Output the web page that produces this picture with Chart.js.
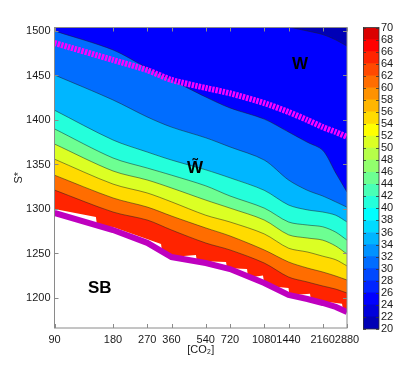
<!DOCTYPE html>
<html>
<head>
<meta charset="utf-8">
<script src="https://cdn.jsdelivr.net/npm/chart.js@4.4.0/dist/chart.umd.min.js"></script>
<style>
  html, body { margin: 0; padding: 0; background: #fff; }
  #wrap { position: relative; width: 419px; height: 370px; }
  #main { position: absolute; left: 0; top: 0; }
  #cbar { position: absolute; left: 355px; top: 0; }
</style>
</head>
<body>
<div id="wrap">
  <canvas id="main" width="419" height="370"></canvas>
  <canvas id="cbar" width="64" height="370"></canvas>
</div>
<script>
// ---- data ----
const co2 = [90, 180, 270, 360, 540, 720, 1080, 1440, 1800, 2160, 2520, 2880];

// contour lines, S* value at each co2 column (level = lower value of the band below)
const s25 = [1540, 1535, 1530, 1525, 1520, 1515, 1510, 1504.5, 1500, 1496, 1490, 1483];
const s30 = [1500, 1478.7, 1458.4, 1445, 1425.8, 1413.5, 1401, 1386.5, 1375, 1366, 1340.5, 1319];
const s35 = [1450.6, 1422.5, 1403.4, 1392, 1380, 1369.7, 1355, 1332.6, 1321, 1314.6, 1308, 1302];
const s40 = [1411, 1377.5, 1364, 1355, 1344, 1335, 1321, 1304.5, 1299, 1296.6, 1293, 1285.4];
const s45 = [1390, 1357.3, 1346, 1338, 1326, 1314.6, 1301, 1285.4, 1282, 1280, 1274, 1265];
const s50 = [1373, 1342.7, 1332.6, 1323.6, 1310, 1301, 1287.6, 1271, 1267.4, 1265, 1258.4, 1249.4];
const s55 = [1356, 1328, 1318, 1308, 1293, 1285.4, 1272, 1256, 1251.7, 1247, 1243, 1236];
const s60 = [1338, 1312.4, 1302.2, 1292.1, 1278.7, 1269.7, 1254, 1240.5, 1233.7, 1229.2, 1224.7, 1220.2];
const s65 = [1321.3, 1296.6, 1287.6, 1276.4, 1261.8, 1254, 1239.3, 1223.6, 1218, 1213.5, 1210, 1205.6];

// SB boundary (solid purple) and W boundary (dashed magenta)
const sbLine = [1295.5, 1276.4, 1262, 1246, 1239.3, 1232.6, 1216.8, 1203.4, 1198.9, 1194.4, 1190, 1184.3];
const wLine = [1486.5, 1467.4, 1456, 1445, 1436, 1430, 1419, 1409, 1400, 1392, 1386.5, 1381];

// ragged lower edge of the filled region
const edgeCO2 = [90, 147, 149, 180, 318, 322, 360, 417, 481, 486, 540, 582, 687, 695, 720, 773, 881, 890,
                 980, 1064, 1080, 1272, 1440, 1457, 1650, 1858, 1880, 2160, 2354, 2715, 2750, 2880];
const edgeS = [1300.1, 1291, 1281, 1279.8, 1260.7, 1252.2, 1246, 1247.2, 1248.3, 1241, 1239.3, 1241, 1240.5, 1233.4,
               1232.6, 1233.2, 1232.6, 1224.3, 1224.2, 1225.2, 1216.9, 1212.4, 1211.2, 1203.2, 1204, 1204.8,
               1197.8, 1194.4, 1195.3, 1193.6, 1186.2, 1184.3];

const xTicks = [90, 180, 270, 360, 540, 720, 1080, 1440, 2160, 2880];
const yTicks = [1200, 1250, 1300, 1350, 1400, 1450, 1500];
const cbTicks = [20, 22, 24, 26, 28, 30, 32, 34, 36, 38, 40, 42, 44, 46, 48, 50, 52, 54, 56, 58, 60, 62, 64, 66, 68, 70];

const noteText = ["W", "W\u0303", "SB"];
const noteCO2 = [1650, 476, 154];
const noteS = [1462, 1346, 1211];

// matlab jet(25), one colour per 2 units from 20 to 70
const jet = [
  "rgb(0,0,182)", "rgb(0,0,219)", "rgb(0,0,255)", "rgb(0,36,255)", "rgb(0,73,255)",
  "rgb(0,109,255)", "rgb(0,146,255)", "rgb(0,182,255)", "rgb(0,219,255)", "rgb(0,255,255)",
  "rgb(36,255,219)", "rgb(73,255,182)", "rgb(109,255,146)", "rgb(146,255,109)", "rgb(182,255,73)",
  "rgb(219,255,36)", "rgb(255,255,0)", "rgb(255,219,0)", "rgb(255,182,0)", "rgb(255,146,0)",
  "rgb(255,109,0)", "rgb(255,73,0)", "rgb(255,36,0)", "rgb(255,0,0)", "rgb(219,0,0)"
];

const FONT = "'Liberation Sans', Arial, Helvetica, sans-serif";
const TXT = "#1a1a1a";

function jetAt(v) {
  return jet[Math.floor((v - 20) / 2)];
}

function pts(xs, ys) {
  return xs.map((x, i) => ({ x: x, y: ys[i] }));
}

const contours = [[25, s25], [30, s30], [35, s35], [40, s40], [45, s45], [50, s50], [55, s55], [60, s60], [65, s65]];

const datasets = [];

// each line fills everything above it with the band colour; lower lines are drawn first
contours.forEach(([lev, arr]) => {
  datasets.push({
    data: pts(co2, arr),
    fill: "end",
    backgroundColor: jetAt(lev - 5),
    borderColor: "rgba(30,30,30,0.7)",
    borderWidth: 0.7,
    pointRadius: 0,
    tension: 0.3,
    clip: 0,
    order: lev
  });
});

datasets.push({
  data: pts(edgeCO2, edgeS),
  fill: "end",
  backgroundColor: jetAt(65),
  borderWidth: 0,
  pointRadius: 0,
  tension: 0,
  clip: 0,
  order: 100
});

datasets.push({
  data: pts(co2, sbLine),
  fill: false,
  borderColor: "#bf00bf",
  borderWidth: 6,
  pointRadius: 0,
  tension: 0,
  clip: 0,
  order: 1
});

datasets.push({
  data: pts(co2, wLine),
  fill: false,
  borderColor: "#ff00ff",
  borderWidth: 6,
  borderDash: [2.4, 1.1],
  borderCapStyle: "butt",
  pointRadius: 0,
  tension: 0.2,
  clip: 0,
  order: 0
});

// box + inward ticks like matlab axes
const framePlugin = {
  id: "frame",
  afterDatasetsDraw(chart) {
    const { ctx, chartArea: a, scales } = chart;
    ctx.save();
    ctx.strokeStyle = "#8a8a8a";
    ctx.lineWidth = 1;
    ctx.strokeRect(a.left, a.top, a.right - a.left, a.bottom - a.top);
    ctx.beginPath();
    scales.x.ticks.forEach(t => {
      const px = Math.round(scales.x.getPixelForValue(t.value)) + 0.5;
      ctx.moveTo(px, a.bottom); ctx.lineTo(px, a.bottom - 4);
      ctx.moveTo(px, a.top); ctx.lineTo(px, a.top + 4);
    });
    scales.y.ticks.forEach(t => {
      const py = Math.round(scales.y.getPixelForValue(t.value)) + 0.5;
      ctx.moveTo(a.left, py); ctx.lineTo(a.left + 4, py);
      ctx.moveTo(a.right, py); ctx.lineTo(a.right - 4, py);
    });
    ctx.stroke();

    // region labels
    ctx.fillStyle = "#000";
    ctx.font = "bold 17px " + FONT;
    ctx.textAlign = "center";
    ctx.textBaseline = "middle";
    noteText.forEach((t, i) => {
      ctx.fillText(t, scales.x.getPixelForValue(noteCO2[i]), scales.y.getPixelForValue(noteS[i]));
    });
    ctx.restore();
  }
};

new Chart(document.getElementById("main"), {
  type: "line",
  data: { datasets: datasets },
  options: {
    responsive: false,
    animation: false,
    devicePixelRatio: 1,
    layout: { padding: { top: 27.5, right: 72, bottom: 0, left: 0 } },
    plugins: { legend: { display: false }, tooltip: { enabled: false } },
    scales: {
      x: {
        type: "logarithmic",
        min: 90,
        max: 2880,
        bounds: "data",
        afterBuildTicks: s => { s.ticks = xTicks.map(v => ({ value: v })); },
        afterFit: s => { s.height = 42; },
        grid: { display: false, drawTicks: false },
        border: { display: false },
        ticks: {
          autoSkip: false, maxRotation: 0, minRotation: 0, padding: 5,
          color: TXT, font: { family: FONT, size: 11 },
          callback: v => String(v)
        },
        title: {
          display: true, text: "[CO₂]", color: TXT,
          font: { family: FONT, size: 11 },
          padding: { top: 0, bottom: 13 }
        }
      },
      y: {
        type: "linear",
        min: 1166.3,
        max: 1503.9,
        afterBuildTicks: s => { s.ticks = yTicks.map(v => ({ value: v })); },
        afterFit: s => { s.width = 54.5; },
        grid: { display: false, drawTicks: false },
        border: { display: false },
        ticks: {
          padding: 4, color: TXT, font: { family: FONT, size: 11 },
          callback: v => String(v)
        },
        title: {
          display: true, text: "S*", color: TXT,
          font: { family: FONT, size: 11 },
          padding: { top: 12, bottom: 0 }
        }
      }
    }
  },
  plugins: [framePlugin]
});

// ---- colour bar ----
const cbFrame = {
  id: "cbFrame",
  afterDatasetsDraw(chart) {
    const { ctx, chartArea: a, scales } = chart;
    ctx.save();
    ctx.strokeStyle = "#333";
    ctx.lineWidth = 0.8;
    ctx.strokeRect(a.left + 0.5, a.top, a.right - a.left - 0.5, a.bottom - a.top);
    ctx.beginPath();
    scales.y.ticks.forEach(t => {
      const py = Math.round(scales.y.getPixelForValue(t.value)) + 0.5;
      ctx.moveTo(a.left, py); ctx.lineTo(a.left + 3, py);
      ctx.moveTo(a.right, py); ctx.lineTo(a.right - 3, py);
    });
    ctx.stroke();
    ctx.restore();
  }
};

const cbLevels = cbTicks.slice(0, -1);

new Chart(document.getElementById("cbar"), {
  type: "bar",
  data: {
    labels: [""],
    datasets: cbLevels.map((lo, i) => ({
      data: [[lo, lo + 2]],
      backgroundColor: jet[i],
      borderWidth: 0,
      grouped: false,
      barPercentage: 1,
      categoryPercentage: 1
    }))
  },
  options: {
    responsive: false,
    animation: false,
    devicePixelRatio: 1,
    layout: { padding: { top: 27.5, right: 0, bottom: 41, left: 8 } },
    plugins: { legend: { display: false }, tooltip: { enabled: false } },
    scales: {
      x: { display: false },
      y: {
        position: "right",
        min: 20,
        max: 70,
        afterBuildTicks: s => { s.ticks = cbTicks.map(v => ({ value: v })); },
        afterFit: s => { s.width = 40; },
        grid: { display: false, drawTicks: false },
        border: { display: false },
        ticks: {
          autoSkip: false, padding: 2, color: TXT,
          font: { family: FONT, size: 11 },
          callback: v => String(v)
        }
      }
    }
  },
  plugins: [cbFrame]
});
</script>
</body>
</html>
